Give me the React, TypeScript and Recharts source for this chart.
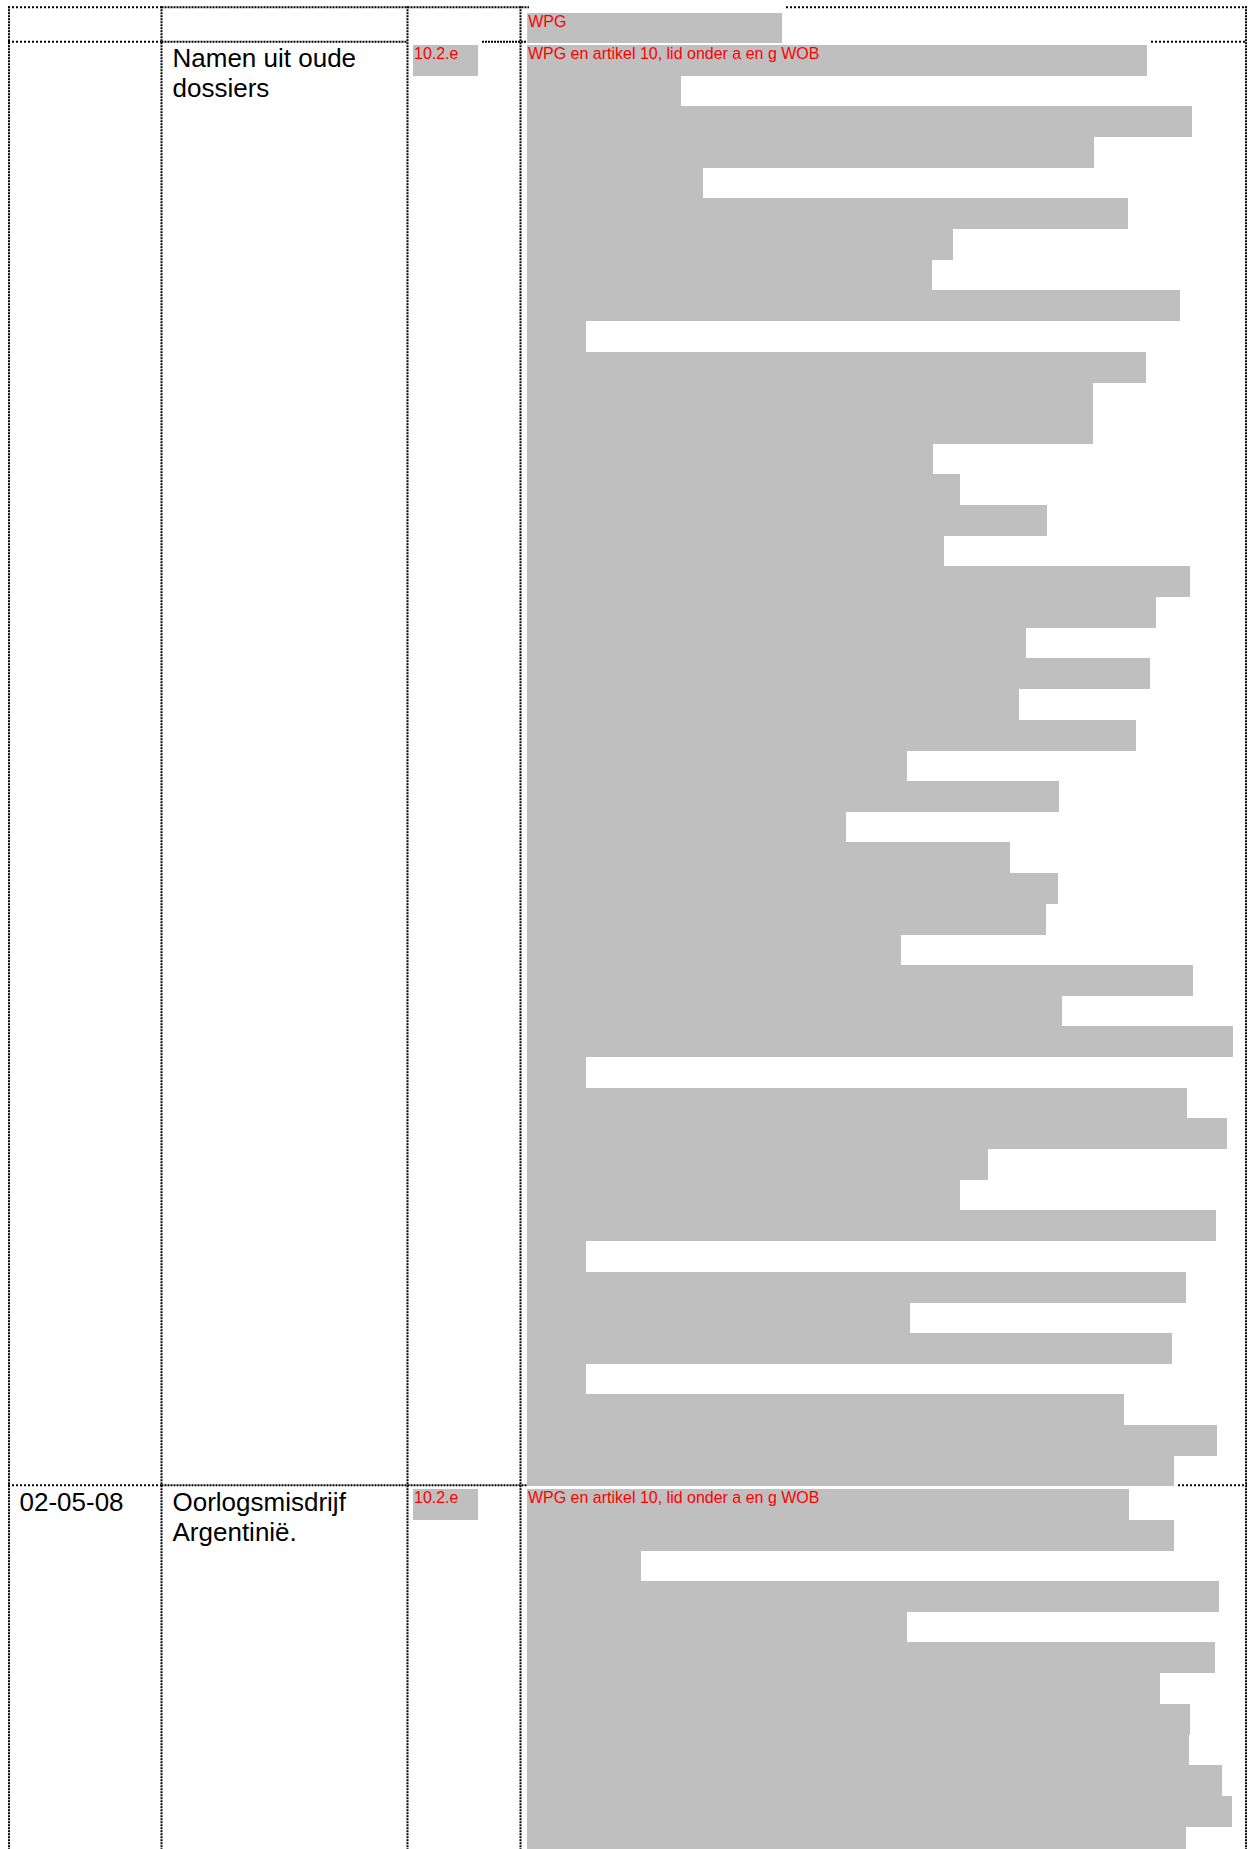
import React from 'react';
import { BarChart, Bar, XAxis, YAxis, LabelList } from 'recharts';

// ---------------------------------------------------------------------------
// Data: length of every redaction bar (px of the scan), one entry per text line
// ---------------------------------------------------------------------------

const headerLengths = [255];
const headerNotes = ['WPG'];

const section1Lengths = [
  620, 154, 665, 567, 176, 601, 426, 405, 653, 59, 619, 566, 566, 406, 433, 520,
  417, 663, 629, 499, 623, 492, 609, 380, 532, 319, 483, 531, 519, 374, 666, 535,
  706, 59, 660, 700, 461, 433, 689, 59, 659, 383, 645, 59, 597, 690, 647,
];
const section2Lengths = [602, 647, 114, 692, 380, 688, 633, 663, 662, 695, 705, 659];
const sectionNotes = ['WPG en artikel 10, lid onder a en g WOB'];

const col3Lengths = [65];
const col3Notes = ['10.2.e'];

const dateLabels = ['', '02-05-08'];
const subjectLines = [
  ['Namen uit oude', 'dossiers'],
  ['Oorlogsmisdrijf', 'Argentinië.'],
];

// ---------------------------------------------------------------------------
// Layout
// ---------------------------------------------------------------------------

const PAGE_W = 1249;
const PAGE_H = 1849;
const ROW_H = 30.67;
const GREY = '#bfbfbf';
const FONT = '"Liberation Sans", Arial, Helvetica, sans-serif';

const COL_X = [9, 161.5, 407.5, 520.5, 1246];
const COL3_X = 413;
const COL4_X = 527;
const COL4_W = 720;
const COL3_W = 107;

const HEADER_TOP = 12.7;
const SECTION_TOPS = [45, 1489];
const LINE_Y = [7.3, 41.7, 1485.3];

const renderNote = (props: any) => {
  const vb = props.viewBox || {};
  const x = props.x ?? vb.x;
  const y = props.y ?? vb.y;
  if (!props.value) return null;
  return (
    <text x={Number(x) + 1} y={Number(y) + 13.5} fill="#ff0000" fontSize={16} fontFamily={FONT}>
      {props.value}
    </text>
  );
};

const RedactionBars: React.FC<{
  left: number;
  top: number;
  width: number;
  lengths: number[];
  notes: string[];
}> = ({ left, top, width, lengths, notes }) => {
  const data = lengths.map((len, i) => ({ row: `r${i}`, len, note: notes[i] ?? '' }));
  const height = lengths.length * ROW_H;
  return (
    <div style={{ position: 'absolute', left, top, width, height }}>
      <BarChart
        layout="vertical"
        width={width}
        height={height}
        data={data}
        margin={{ top: 0, right: 0, bottom: 0, left: 0 }}
        barCategoryGap={0}
        barGap={0}
        style={{ outline: 'none' }}
      >
        <XAxis type="number" dataKey="len" domain={[0, width]} allowDataOverflow hide />
        <YAxis type="category" dataKey="row" hide width={0} />
        <Bar dataKey="len" fill={GREY} shapeRendering="crispEdges" isAnimationActive={false}>
          <LabelList dataKey="note" content={renderNote} />
        </Bar>
      </BarChart>
    </div>
  );
};

// dotted table rules; bars wipe out the rule next to them (+4px margin)
const Rule: React.FC<{ x1: number; x2: number; y: number; light?: boolean }> = ({ x1, x2, y, light }) => (
  <line x1={x1} x2={x2} y1={y} y2={y} stroke="#000" strokeWidth={2} strokeDasharray={light ? '2 2' : '2 1'} />
);

const TableGrid: React.FC = () => {
  const headerEnd = COL4_X + headerLengths[0] + 4;
  const row1End = COL4_X + Math.max(headerLengths[0], section1Lengths[0]) + 4;
  const sectionEnd =
    COL4_X + Math.max(section1Lengths[section1Lengths.length - 1], section2Lengths[0]) + 4;
  const col3End = COL3_X + col3Lengths[0] + 4;
  const [x0, x1, x2, , x4] = COL_X;
  return (
    <svg width={PAGE_W} height={PAGE_H} style={{ position: 'absolute', left: 0, top: 0 }}>
      {/* top rule */}
      <Rule x1={x0 - 1} x2={x1} y={LINE_Y[0]} light />
      <Rule x1={x1} x2={COL4_X + 2} y={LINE_Y[0]} />
      <Rule x1={headerEnd} x2={x4 + 1} y={LINE_Y[0]} light />
      {/* header / first row */}
      <Rule x1={x0 - 1} x2={x1} y={LINE_Y[1]} light />
      <Rule x1={x1} x2={x2} y={LINE_Y[1]} />
      <Rule x1={col3End} x2={COL4_X} y={LINE_Y[1]} />
      <Rule x1={row1End} x2={x4 + 1} y={LINE_Y[1]} light />
      {/* between the two entries */}
      <Rule x1={x0 - 1} x2={x1} y={LINE_Y[2]} light />
      <Rule x1={x1} x2={COL4_X} y={LINE_Y[2]} />
      <Rule x1={sectionEnd} x2={x4 + 1} y={LINE_Y[2]} light />
      {COL_X.map((x) => (
        <line key={x} x1={x} x2={x} y1={LINE_Y[0] - 1} y2={PAGE_H} stroke="#000" strokeWidth={2} strokeDasharray="2 1" />
      ))}
      {SECTION_TOPS.map((top, i) => (
        <g key={i} fontFamily={FONT} fontSize={26} fill="#000">
          <text x={19.5} y={top + 21.5}>
            {dateLabels[i]}
          </text>
          {subjectLines[i].map((line, j) => (
            <text key={j} x={172.5} y={top + 21.5 + j * ROW_H}>
              {line}
            </text>
          ))}
        </g>
      ))}
    </svg>
  );
};

const App: React.FC = () => (
  <div
    style={{
      position: 'absolute',
      left: 0,
      top: 0,
      width: PAGE_W,
      height: PAGE_H,
      overflow: 'hidden',
      background: '#fff',
    }}
  >
    <TableGrid />
    <RedactionBars left={COL4_X} top={HEADER_TOP} width={COL4_W} lengths={headerLengths} notes={headerNotes} />
    <RedactionBars left={COL4_X} top={SECTION_TOPS[0]} width={COL4_W} lengths={section1Lengths} notes={sectionNotes} />
    <RedactionBars left={COL4_X} top={SECTION_TOPS[1]} width={COL4_W} lengths={section2Lengths} notes={sectionNotes} />
    {SECTION_TOPS.map((top) => (
      <RedactionBars key={top} left={COL3_X} top={top} width={COL3_W} lengths={col3Lengths} notes={col3Notes} />
    ))}
  </div>
);

export default App;
